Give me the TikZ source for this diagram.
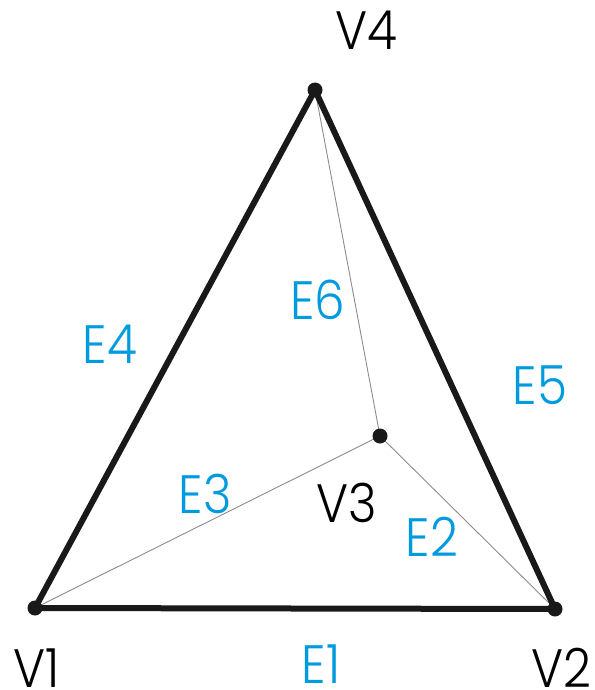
\documentclass[tikz,border=0pt]{standalone}
\usepackage{fontspec}
\setmainfont{Poppins}[UprightFont=* Light]
\definecolor{eblue}{RGB}{0,155,222}
\begin{document}
\begin{tikzpicture}[x=1pt,y=-1pt,
  vlabel/.style={font=\fontsize{54}{54}\selectfont\addfontfeature{FakeStretch=0.9}, text=black, inner sep=0pt, anchor=base},
  elabel/.style={font=\fontsize{54}{54}\selectfont\addfontfeature{FakeStretch=0.9}, text=eblue, inner sep=0pt, anchor=base},
  thickedge/.style={line width=6pt, line cap=round, line join=round, draw=black!90},
  thinedge/.style={line width=0.9pt, draw=black!45},
  dot/.style={circle, fill=black!90, minimum size=15pt, inner sep=0pt}]
\useasboundingbox (0,0) rectangle (594,690);
\coordinate (p1) at (35,608);
\coordinate (p2) at (555,609);
\coordinate (p4) at (315,90);
\coordinate (p3) at (380,436);
\draw[thinedge] (p1) -- (p3);
\draw[thinedge] (p2) -- (p3);
\draw[thinedge] (p4) -- (p3);
\draw[thickedge] (p1) -- (p2) -- (p4) -- cycle;
\node[dot] (d1) at (p1) {};
\node[dot] (d2) at (p2) {};
\node[dot] (d3) at (p3) {};
\node[dot] (d4) at (p4) {};
\node[vlabel] (lv4) at (366,50) {V4};
\node[vlabel] (lv1) at (37,687) {V1};
\node[vlabel] (lv2) at (561,687) {V2};
\node[vlabel] (lv3) at (347,522) {V3};
\node[elabel] (e1) at (321,683) {E1};
\node[elabel] (e2) at (432,556) {E2};
\node[elabel] (e3) at (205,513) {E3};
\node[elabel] (e4) at (110,363) {E4};
\node[elabel] (e5) at (540,404) {E5};
\node[elabel] (e6) at (318,319) {E6};
\end{tikzpicture}
\end{document}
